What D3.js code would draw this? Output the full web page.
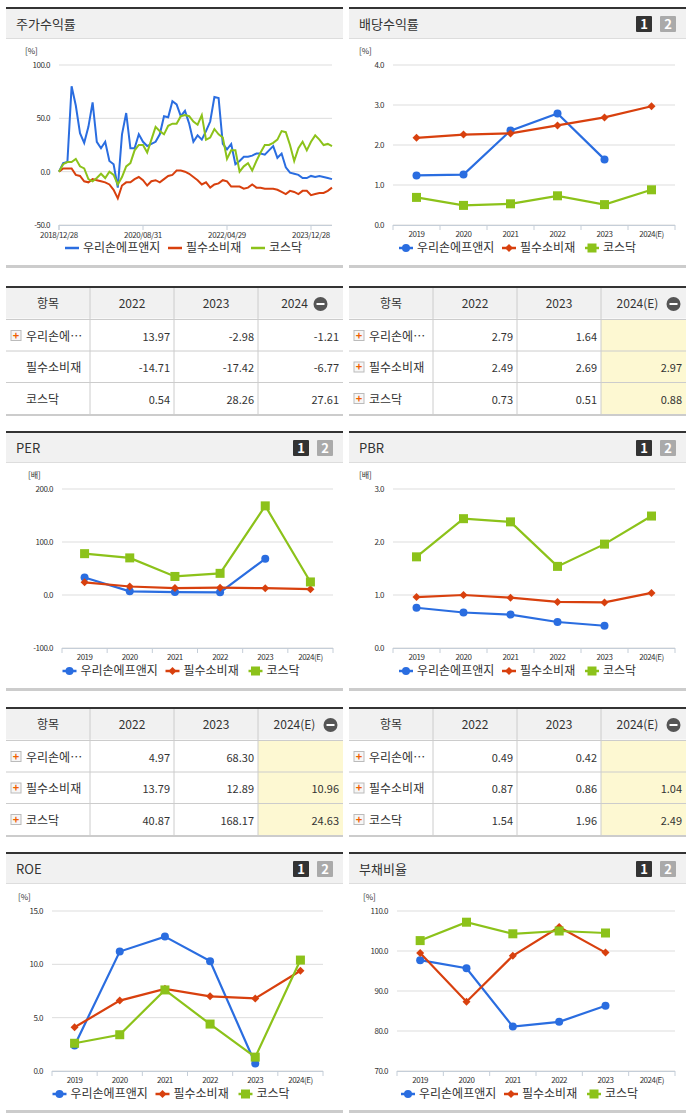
<!DOCTYPE html><html><head><meta charset="utf-8">
<script src="https://cdn.jsdelivr.net/npm/d3@7"></script>
<style>body{margin:0;background:#fff;font-family:"Noto Sans CJK KR",sans-serif}</style></head><body>
<svg id="s" width="691" height="1115"></svg>
<script>
const seriesNames=["우리손에프앤지","필수소비재","코스닥"];
const colors=["#2a6de0","#d8400e","#8cc21a"];
const years=["2019","2020","2021","2022","2023","2024(E)"];
const retDates=["2018/12/28","2020/08/31","2022/04/29","2023/12/28"];
const retBlue=[0,8,9,80,62,36,27,42,65,28,22,28,10,7,-15,35,55,22,22,35,28,24,26,28,35,52,51,66,63,52,57,45,28,34,30,38,47,70,69,26,21,26,7,10,14,14,15,17,17,16,20,24,13,17,4,-1,-2,-3,-6,-6,-4,-5,-4,-5,-6,-7];
const retRed=[0,3,3,3,-3,-4,-9,-10,-7,-8,-9,-10,-12,-17,-25,-13,-10,-10,-7,-5,-8,-13,-9,-8,-10,-7,-4,-3,1,1,0,-2,-5,-8,-12,-10,-15,-12,-11,-8,-9,-14,-14,-14,-16,-15,-12,-15,-15,-16,-16,-16,-17,-19,-21,-18,-19,-21,-18,-18,-22,-21,-20,-20,-18,-15];
const retGreen=[0,7,9,9,12,5,3,-7,-9,-6,-2,-6,0,-3,-12,-5,5,8,20,25,25,18,30,42,38,35,43,45,45,52,53,52,47,44,53,30,32,40,35,32,12,20,20,0,5,8,1,10,18,25,25,27,30,38,37,25,10,22,28,20,28,34,30,25,26,24];
const divBlue=[1.24,1.26,2.36,2.79,1.64,null], divRed=[2.18,2.26,2.29,2.49,2.69,2.97], divGreen=[0.69,0.49,0.53,0.73,0.51,0.88];
const perBlue=[33,7,5.5,4.97,68.3,null], perRed=[24,16,13,13.79,12.89,10.96], perGreen=[78,70,35,40.87,168.17,24.63];
const pbrBlue=[0.76,0.67,0.63,0.49,0.42,null], pbrRed=[0.96,1.0,0.95,0.87,0.86,1.04], pbrGreen=[1.72,2.44,2.38,1.54,1.96,2.49];
const roeBlue=[2.4,11.2,12.6,10.3,0.7,null], roeRed=[4.1,6.6,7.7,7.0,6.8,9.4], roeGreen=[2.6,3.4,7.6,4.4,1.3,10.4];
const debtBlue=[97.7,95.7,81.1,82.3,86.3,null], debtRed=[99.5,87.3,98.8,106,99.6,null], debtGreen=[102.6,107.2,104.3,105,104.5,null];
const tblRet={cols:["2022","2023","2024"],rows:[["13.97","-2.98","-1.21"],["-14.71","-17.42","-6.77"],["0.54","28.26","27.61"]]};
const tblDiv={cols:["2022","2023","2024(E)"],rows:[["2.79","1.64",""],["2.49","2.69","2.97"],["0.73","0.51","0.88"]]};
const tblPer={cols:["2022","2023","2024(E)"],rows:[["4.97","68.30",""],["13.79","12.89","10.96"],["40.87","168.17","24.63"]]};
const tblPbr={cols:["2022","2023","2024(E)"],rows:[["0.49","0.42",""],["0.87","0.86","1.04"],["1.54","1.96","2.49"]]};

const svg=d3.select("#s");
function panel(x0,y0,w,title,btns,bottom){
  svg.append("rect").attr("x",x0).attr("y",y0).attr("width",w).attr("height",2).attr("fill","#333");
  svg.append("rect").attr("x",x0).attr("y",y0+2).attr("width",w).attr("height",29).attr("fill","#f1f1f1");
  svg.append("rect").attr("x",x0).attr("y",y0+31).attr("width",w).attr("height",1).attr("fill","#ddd");
  svg.append("text").attr("x",x0+10).attr("y",y0+22).attr("font-size",13).attr("fill","#333").text(title);
  if(btns){
    [["1","#333",w-42],["2","#aaa",w-18]].forEach(([t,c,dx])=>{
      svg.append("rect").attr("x",x0+dx-8).attr("y",y0+9).attr("width",16).attr("height",16).attr("fill",c).attr("rx",1);
      svg.append("text").attr("x",x0+dx).attr("y",y0+22).attr("text-anchor","middle").attr("font-size",13).attr("font-weight","bold").attr("fill","#fff").text(t);
    });
  }
  svg.append("rect").attr("x",x0).attr("y",bottom).attr("width",w).attr("height",3).attr("fill","#ccc");
}
function yAxis(x0,x1,y,unit,ticks){
  svg.append("text").attr("x",x0-34).attr("y",y.range()[1]-11).attr("font-size",8).attr("fill","#333").text(unit);
  ticks.forEach(t=>{
    svg.append("line").attr("x1",x0).attr("x2",x1).attr("y1",y(t)).attr("y2",y(t)).attr("stroke","#ddd");
    svg.append("text").attr("x",x0-9).attr("y",y(t)+3).attr("text-anchor","end").attr("font-size",8).attr("fill","#333").attr("letter-spacing","-0.5").text(t.toFixed(1));
  });
}
function legend(cx,y,markers){
  const g=svg.append("g");
  let x=cx-125;
  seriesNames.forEach((n,i)=>{
    g.append("line").attr("x1",x).attr("x2",x+14).attr("y1",y-4).attr("y2",y-4).attr("stroke",colors[i]).attr("stroke-width",2.5);
    if(markers) marker(g,i,x+7,y-4);
    g.append("text").attr("x",x+18).attr("y",y).attr("font-size",12).attr("fill","#333").text(n);
    x+= i==0?103:(i==1?83:0);
  });
}
function marker(g,i,x,y){
  if(i==0) g.append("circle").attr("cx",x).attr("cy",y).attr("r",4).attr("fill",colors[0]);
  else if(i==1) g.append("path").attr("d",`M${x},${y-4}L${x+4},${y}L${x},${y+4}L${x-4},${y}Z`).attr("fill",colors[1]);
  else g.append("rect").attr("x",x-4.5).attr("y",y-4.5).attr("width",9).attr("height",9).attr("fill",colors[2]);
}
function catChart(x0,x1,ytop,ybot,dom,ticks,unit,data,legendY){
  const y=d3.scaleLinear().domain(dom).range([ybot,ytop]);
  const x=d3.scaleBand().domain(years).range([x0,x1]);
  yAxis(x0,x1,y,unit,ticks);
  svg.append("line").attr("x1",x0).attr("x2",x1).attr("y1",ybot+0.5).attr("y2",ybot+0.5).attr("stroke","#c5ced8");
  years.forEach((yr,i)=>{
    svg.append("line").attr("x1",x(yr)).attr("x2",x(yr)).attr("y1",ybot).attr("y2",ybot+5).attr("stroke","#c5ced8");
    svg.append("text").attr("x",x(yr)+x.bandwidth()/2).attr("y",ybot+12).attr("text-anchor","middle").attr("font-size",8).attr("letter-spacing","-0.5").attr("fill","#333").text(yr);
  });
  svg.append("line").attr("x1",x1).attr("x2",x1).attr("y1",ybot).attr("y2",ybot+5).attr("stroke","#c5ced8");
  data.forEach((d,i)=>{
    const pts=d.map((v,j)=>[x(years[j])+x.bandwidth()/2,v]).filter(p=>p[1]!=null);
    svg.append("path").attr("d",d3.line().x(p=>p[0]).y(p=>y(p[1]))(pts)).attr("fill","none").attr("stroke",colors[i]).attr("stroke-width",2.2);
    const g=svg.append("g");
    pts.forEach(p=>marker(g,i,p[0],y(p[1])));
  });
  legend((x0+x1)/2-10,legendY,true);
}
function table(x0,y0,w,t,yellow,icons){
  const cw=[84,84,84,w-252], rh=31.5;
  svg.append("rect").attr("x",x0).attr("y",y0).attr("width",w).attr("height",2).attr("fill","#333");
  svg.append("rect").attr("x",x0).attr("y",y0+2).attr("width",w).attr("height",rh-1).attr("fill","#f1f1f1");
  if(yellow) svg.append("rect").attr("x",x0+252).attr("y",y0+2+rh).attr("width",w-252).attr("height",rh*3).attr("fill","#fdf8d2");
  let cx=x0;
  const heads=["항목",...t.cols];
  heads.forEach((h,i)=>{
    const mid=cx+cw[i]/2;
    svg.append("text").attr("x",mid-(i==3?6:0)).attr("y",y0+22).attr("text-anchor","middle").attr("font-size",12).attr("fill","#333").text(h);
    if(i==3){svg.append("circle").attr("cx",mid+(h.length>4?30:20)).attr("cy",y0+18).attr("r",7).attr("fill","#555");
      svg.append("rect").attr("x",mid+(h.length>4?30:20)-4).attr("y",y0+17).attr("width",8).attr("height",2).attr("fill","#fff");}
    if(i>0) svg.append("line").attr("x1",cx).attr("x2",cx).attr("y1",y0+2).attr("y2",y0+2+rh*4).attr("stroke","#ccc");
    cx+=cw[i];
  });
  for(let r=0;r<3;r++){
    const yy=y0+2+rh*(r+1);
    svg.append("line").attr("x1",x0).attr("x2",x0+w).attr("y1",yy).attr("y2",yy).attr("stroke","#ccc");
    const name=r==0?"우리손에…":seriesNames[r];
    const hasIcon=icons[r];
    if(hasIcon){
      svg.append("rect").attr("x",x0+5).attr("y",yy+11).attr("width",10).attr("height",10).attr("fill","#f6f6f6").attr("stroke","#bbb");
      svg.append("text").attr("x",x0+10).attr("y",yy+20).attr("text-anchor","middle").attr("font-size",11).attr("font-weight","bold").attr("fill","#f06000").text("+");
    }
    svg.append("text").attr("x",x0+20).attr("y",yy+21).attr("font-size",12).attr("fill","#333").text(name);
    let c=x0+84;
    t.rows[r].forEach((v,k)=>{
      c+=cw[k+1];
      svg.append("text").attr("x",c-4).attr("y",yy+21).attr("text-anchor","end").attr("font-size",11).attr("fill","#333").text(v);
    });
  }
  svg.append("rect").attr("x",x0).attr("y",y0+2+rh*4).attr("width",w).attr("height",2).attr("fill","#ccc");
}
const L=6,R=349,W=337;
// Panel 1: stock return
panel(L,7,W,"주가수익률",false,265);
(function(){
  const x0=59,x1=332;
  const y=d3.scaleLinear().domain([-50,100]).range([225,65]);
  const x=d3.scaleLinear().domain([0,65]).range([x0,x1]);
  yAxis(x0,x1,y,"[%]",[100,50,0,-50]);
  svg.append("line").attr("x1",x0).attr("x2",x1).attr("y1",225.5).attr("y2",225.5).attr("stroke","#c5ced8");
  svg.append("line").attr("x1",x0).attr("x2",x0).attr("y1",225).attr("y2",230).attr("stroke","#c5ced8");
  retDates.forEach((d,i)=>{
    const xi=x(i*20);
    svg.append("line").attr("x1",xi).attr("x2",xi).attr("y1",225).attr("y2",230).attr("stroke","#c5ced8");
    svg.append("text").attr("x",xi).attr("y",238).attr("text-anchor","middle").attr("font-size",8).attr("letter-spacing","-0.4").attr("fill","#333").text(d);
  });
  [retBlue,retRed,retGreen].forEach((d,i)=>{
    svg.append("path").attr("d",d3.line().x((v,j)=>x(j)).y(v=>y(v))(d)).attr("fill","none").attr("stroke",colors[i]).attr("stroke-width",2);
  });
  legend(190,252,false);
})();
panel(R,7,W,"배당수익률",true,265);
catChart(393,675,65,225,[0,4],[4,3,2,1,0],"[%]",[divBlue,divRed,divGreen],252);
table(L,286,W,tblRet,false,[true,false,false]);
table(R,286,W,tblDiv,true,[true,true,true]);
panel(L,431,W,"PER",true,688);
catChart(62,333,489,648,[-100,200],[200,100,0,-100],"[배]",[perBlue,perRed,perGreen],675);
panel(R,431,W,"PBR",true,688);
catChart(393,675,489,648,[0,3],[3,2,1,0],"[배]",[pbrBlue,pbrRed,pbrGreen],675);
table(L,707,W,tblPer,true,[true,true,true]);
table(R,707,W,tblPbr,true,[true,true,true]);
panel(L,852,W,"ROE",true,1110);
catChart(52,323,911,1071,[0,15],[15,10,5,0],"[%]",[roeBlue,roeRed,roeGreen],1098);
panel(R,852,W,"부채비율",true,1110);
catChart(397,675,911,1071,[70,110],[110,100,90,80,70],"[%]",[debtBlue,debtRed,debtGreen],1098);
</script></body></html>
